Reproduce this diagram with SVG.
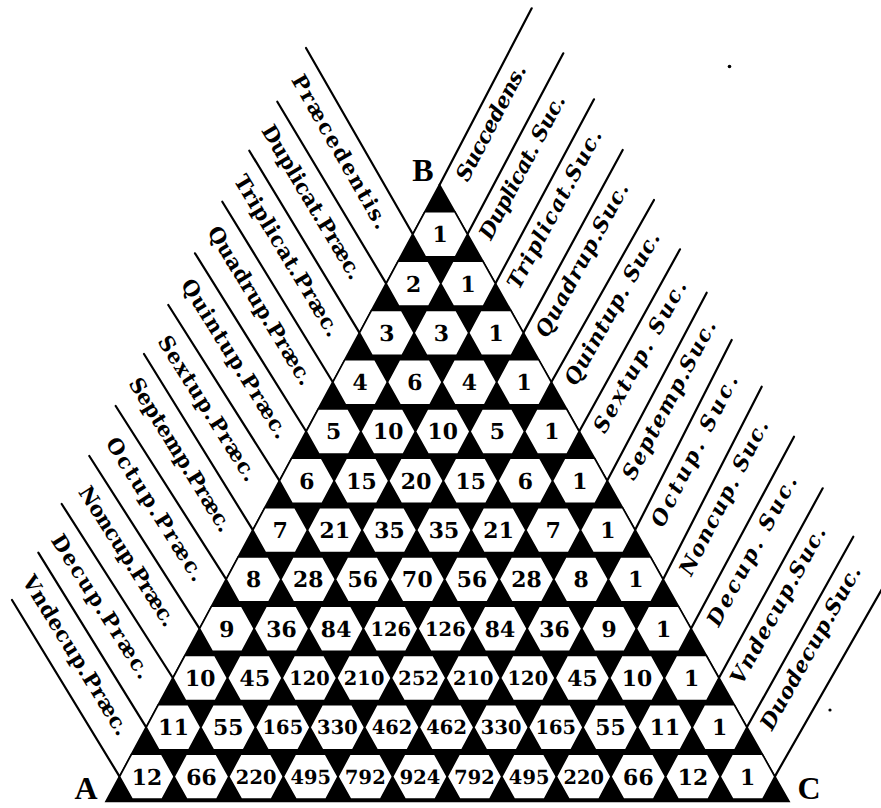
<svg xmlns="http://www.w3.org/2000/svg" width="881" height="808" viewBox="0 0 881 808">
<defs>
<style>
.n{font-family:"DejaVu Serif","Liberation Serif",serif;font-weight:bold;font-size:22px;text-anchor:middle;fill:#000}
.n3{font-family:"DejaVu Serif","Liberation Serif",serif;font-weight:bold;font-size:19.5px;text-anchor:middle;fill:#000}
.lp{font-family:"DejaVu Serif","Liberation Serif",serif;font-weight:bold;font-size:21px;fill:#000}
.ls{font-family:"DejaVu Serif","Liberation Serif",serif;font-weight:bold;font-style:italic;font-size:21px;fill:#000}
.abc{font-family:"Liberation Serif",serif;font-weight:bold;font-size:32px;text-anchor:middle;fill:#000}
.ln{stroke:#000;stroke-width:2.2;fill:none;stroke-linecap:round}
</style>
<polygon id="h" points="27.3,0 15,22.5 -15,22.5 -27.3,0 -15,-22.5 15,-22.5" fill="#fff" stroke="#000" stroke-width="1.6"/>
</defs>
<rect width="881" height="808" fill="#fff"/>
<g id="connectors">
<line class="ln" x1="306" y1="48" x2="412.84" y2="234.3"/>
<line class="ln" x1="277.3" y1="101.7" x2="386.18" y2="283.6"/>
<line class="ln" x1="249.3" y1="150.7" x2="359.52" y2="332.9"/>
<line class="ln" x1="222.3" y1="201.7" x2="332.86" y2="382.2"/>
<line class="ln" x1="195" y1="253.3" x2="306.2" y2="431.5"/>
<line class="ln" x1="168.3" y1="305" x2="279.54" y2="480.8"/>
<line class="ln" x1="144" y1="354" x2="252.88" y2="530.1"/>
<line class="ln" x1="115.7" y1="406" x2="226.22" y2="579.4"/>
<line class="ln" x1="89.3" y1="456" x2="199.56" y2="628.7"/>
<line class="ln" x1="61.7" y1="504" x2="172.9" y2="678"/>
<line class="ln" x1="38.3" y1="552.7" x2="146.24" y2="727.3"/>
<line class="ln" x1="12" y1="600" x2="119.58" y2="776.6"/>
<line class="ln" x1="439.5" y1="185" x2="531.7" y2="8.3"/>
<line class="ln" x1="467.44" y1="234.3" x2="563.3" y2="53.3"/>
<line class="ln" x1="495.38" y1="283.6" x2="594" y2="99.3"/>
<line class="ln" x1="523.32" y1="332.9" x2="622.7" y2="150"/>
<line class="ln" x1="551.26" y1="382.2" x2="654" y2="200"/>
<line class="ln" x1="579.2" y1="431.5" x2="680" y2="249.3"/>
<line class="ln" x1="607.14" y1="480.8" x2="706.7" y2="292.7"/>
<line class="ln" x1="635.08" y1="530.1" x2="731.7" y2="340"/>
<line class="ln" x1="663.02" y1="579.4" x2="761.7" y2="386.7"/>
<line class="ln" x1="690.96" y1="628.7" x2="794" y2="436.7"/>
<line class="ln" x1="718.9" y1="678" x2="822.7" y2="488.3"/>
<line class="ln" x1="746.84" y1="727.3" x2="853.3" y2="536.7"/>
<line class="ln" x1="774.78" y1="776.6" x2="890" y2="575"/>
</g>
<g id="labels-left">
<text class="lp" transform="translate(290.8 79.8) rotate(60.2)" textLength="174" lengthAdjust="spacing">Præcedentis.</text>
<text class="lp" transform="translate(260.7 130.3) rotate(59.1)" textLength="176" lengthAdjust="spacing">Duplicat.Præc.</text>
<text class="lp" transform="translate(233.3 180.2) rotate(58.8)" textLength="185" lengthAdjust="spacing">Triplicat.Præc.</text>
<text class="lp" transform="translate(206.7 231.7) rotate(58.5)" textLength="182" lengthAdjust="spacing">Quadrup.Præc.</text>
<text class="lp" transform="translate(180.2 284.5) rotate(58)" textLength="184" lengthAdjust="spacing">Quintup.Præc.</text>
<text class="lp" transform="translate(156.9 341.3) rotate(57.7)" textLength="168" lengthAdjust="spacing">Sextup.Præc.</text>
<text class="lp" transform="translate(127.9 383.2) rotate(58.3)" textLength="177" lengthAdjust="spacing">Septemp.Præc.</text>
<text class="lp" transform="translate(104.9 443.1) rotate(57.5)" textLength="166" lengthAdjust="spacing">Octup.Præc.</text>
<text class="lp" transform="translate(77.8 491.9) rotate(57.4)" textLength="162" lengthAdjust="spacing">Noncup.Præc.</text>
<text class="lp" transform="translate(50.2 539.9) rotate(57.4)" textLength="167" lengthAdjust="spacing">Decup.Præc.</text>
<text class="lp" transform="translate(21.5 580.7) rotate(58.3)" textLength="184" lengthAdjust="spacing">Vndecup.Præc.</text>
</g>
<g id="labels-right">
<text class="ls" transform="translate(467.7 182.8) rotate(-62.4)" textLength="128" lengthAdjust="spacing">Succedens.</text>
<text class="ls" transform="translate(491 241.1) rotate(-62.1)" textLength="160" lengthAdjust="spacing">Duplicat. Suc.</text>
<text class="ls" transform="translate(518.9 290.5) rotate(-61.8)" textLength="177" lengthAdjust="spacing">Triplicat.Suc.</text>
<text class="ls" transform="translate(547.2 339.1) rotate(-61.5)" textLength="172" lengthAdjust="spacing">Quadrup.Suc.</text>
<text class="ls" transform="translate(576.1 387) rotate(-60.6)" textLength="172" lengthAdjust="spacing">Quintup. Suc.</text>
<text class="ls" transform="translate(605 434.4) rotate(-61)" textLength="170" lengthAdjust="spacing">Sextup. Suc.</text>
<text class="ls" transform="translate(633.9 481.4) rotate(-62.1)" textLength="177" lengthAdjust="spacing">Septemp.Suc.</text>
<text class="ls" transform="translate(662.9 528.5) rotate(-63.1)" textLength="167" lengthAdjust="spacing">Octup. Suc.</text>
<text class="ls" transform="translate(691.2 577) rotate(-62.9)" textLength="171" lengthAdjust="spacing">Noncup. Suc.</text>
<text class="ls" transform="translate(718.8 627.7) rotate(-61.8)" textLength="167" lengthAdjust="spacing">Decup. Suc.</text>
<text class="ls" transform="translate(742.1 685.7) rotate(-61.3)" textLength="176" lengthAdjust="spacing">Vndecup.Suc.</text>
<text class="ls" transform="translate(771.9 731.6) rotate(-60.8)" textLength="184" lengthAdjust="spacing">Duodecup.Suc.</text>
</g>
<g id="corners">
<text class="abc" x="423" y="181">B</text>
<text class="abc" x="86" y="799">A</text>
<text class="abc" x="809" y="799">C</text>
<circle cx="729.5" cy="66.5" r="1.8" fill="#000"/>
<circle cx="830" cy="710" r="1.6" fill="#000"/>
</g>
<g id="triangle" transform="matrix(1 0 0.013 1 439.5 185)">
<polygon points="0,0 -341.25,616.25 341.25,616.25" fill="#000" stroke="#000" stroke-width="2" stroke-linejoin="miter"/>
<g id="r1c1"><use href="#h" x="0" y="49.3"/><text class="n" x="0" y="57.3">1</text></g>
<g id="r2c1"><use href="#h" x="-27.3" y="98.6"/><text class="n" x="-27.3" y="106.6">2</text></g>
<g id="r2c2"><use href="#h" x="27.3" y="98.6"/><text class="n" x="27.3" y="106.6">1</text></g>
<g id="r3c1"><use href="#h" x="-54.6" y="147.9"/><text class="n" x="-54.6" y="155.9">3</text></g>
<g id="r3c2"><use href="#h" x="0" y="147.9"/><text class="n" x="0" y="155.9">3</text></g>
<g id="r3c3"><use href="#h" x="54.6" y="147.9"/><text class="n" x="54.6" y="155.9">1</text></g>
<g id="r4c1"><use href="#h" x="-81.9" y="197.2"/><text class="n" x="-81.9" y="205.2">4</text></g>
<g id="r4c2"><use href="#h" x="-27.3" y="197.2"/><text class="n" x="-27.3" y="205.2">6</text></g>
<g id="r4c3"><use href="#h" x="27.3" y="197.2"/><text class="n" x="27.3" y="205.2">4</text></g>
<g id="r4c4"><use href="#h" x="81.9" y="197.2"/><text class="n" x="81.9" y="205.2">1</text></g>
<g id="r5c1"><use href="#h" x="-109.2" y="246.5"/><text class="n" x="-109.2" y="254.5">5</text></g>
<g id="r5c2"><use href="#h" x="-54.6" y="246.5"/><text class="n" x="-54.6" y="254.5">10</text></g>
<g id="r5c3"><use href="#h" x="0" y="246.5"/><text class="n" x="0" y="254.5">10</text></g>
<g id="r5c4"><use href="#h" x="54.6" y="246.5"/><text class="n" x="54.6" y="254.5">5</text></g>
<g id="r5c5"><use href="#h" x="109.2" y="246.5"/><text class="n" x="109.2" y="254.5">1</text></g>
<g id="r6c1"><use href="#h" x="-136.5" y="295.8"/><text class="n" x="-136.5" y="303.8">6</text></g>
<g id="r6c2"><use href="#h" x="-81.9" y="295.8"/><text class="n" x="-81.9" y="303.8">15</text></g>
<g id="r6c3"><use href="#h" x="-27.3" y="295.8"/><text class="n" x="-27.3" y="303.8">20</text></g>
<g id="r6c4"><use href="#h" x="27.3" y="295.8"/><text class="n" x="27.3" y="303.8">15</text></g>
<g id="r6c5"><use href="#h" x="81.9" y="295.8"/><text class="n" x="81.9" y="303.8">6</text></g>
<g id="r6c6"><use href="#h" x="136.5" y="295.8"/><text class="n" x="136.5" y="303.8">1</text></g>
<g id="r7c1"><use href="#h" x="-163.8" y="345.1"/><text class="n" x="-163.8" y="353.1">7</text></g>
<g id="r7c2"><use href="#h" x="-109.2" y="345.1"/><text class="n" x="-109.2" y="353.1">21</text></g>
<g id="r7c3"><use href="#h" x="-54.6" y="345.1"/><text class="n" x="-54.6" y="353.1">35</text></g>
<g id="r7c4"><use href="#h" x="0" y="345.1"/><text class="n" x="0" y="353.1">35</text></g>
<g id="r7c5"><use href="#h" x="54.6" y="345.1"/><text class="n" x="54.6" y="353.1">21</text></g>
<g id="r7c6"><use href="#h" x="109.2" y="345.1"/><text class="n" x="109.2" y="353.1">7</text></g>
<g id="r7c7"><use href="#h" x="163.8" y="345.1"/><text class="n" x="163.8" y="353.1">1</text></g>
<g id="r8c1"><use href="#h" x="-191.1" y="394.4"/><text class="n" x="-191.1" y="402.4">8</text></g>
<g id="r8c2"><use href="#h" x="-136.5" y="394.4"/><text class="n" x="-136.5" y="402.4">28</text></g>
<g id="r8c3"><use href="#h" x="-81.9" y="394.4"/><text class="n" x="-81.9" y="402.4">56</text></g>
<g id="r8c4"><use href="#h" x="-27.3" y="394.4"/><text class="n" x="-27.3" y="402.4">70</text></g>
<g id="r8c5"><use href="#h" x="27.3" y="394.4"/><text class="n" x="27.3" y="402.4">56</text></g>
<g id="r8c6"><use href="#h" x="81.9" y="394.4"/><text class="n" x="81.9" y="402.4">28</text></g>
<g id="r8c7"><use href="#h" x="136.5" y="394.4"/><text class="n" x="136.5" y="402.4">8</text></g>
<g id="r8c8"><use href="#h" x="191.1" y="394.4"/><text class="n" x="191.1" y="402.4">1</text></g>
<g id="r9c1"><use href="#h" x="-218.4" y="443.7"/><text class="n" x="-218.4" y="451.7">9</text></g>
<g id="r9c2"><use href="#h" x="-163.8" y="443.7"/><text class="n" x="-163.8" y="451.7">36</text></g>
<g id="r9c3"><use href="#h" x="-109.2" y="443.7"/><text class="n" x="-109.2" y="451.7">84</text></g>
<g id="r9c4"><use href="#h" x="-54.6" y="443.7"/><text class="n3" x="-54.6" y="450.7">126</text></g>
<g id="r9c5"><use href="#h" x="0" y="443.7"/><text class="n3" x="0" y="450.7">126</text></g>
<g id="r9c6"><use href="#h" x="54.6" y="443.7"/><text class="n" x="54.6" y="451.7">84</text></g>
<g id="r9c7"><use href="#h" x="109.2" y="443.7"/><text class="n" x="109.2" y="451.7">36</text></g>
<g id="r9c8"><use href="#h" x="163.8" y="443.7"/><text class="n" x="163.8" y="451.7">9</text></g>
<g id="r9c9"><use href="#h" x="218.4" y="443.7"/><text class="n" x="218.4" y="451.7">1</text></g>
<g id="r10c1"><use href="#h" x="-245.7" y="493"/><text class="n" x="-245.7" y="501">10</text></g>
<g id="r10c2"><use href="#h" x="-191.1" y="493"/><text class="n" x="-191.1" y="501">45</text></g>
<g id="r10c3"><use href="#h" x="-136.5" y="493"/><text class="n3" x="-136.5" y="500">120</text></g>
<g id="r10c4"><use href="#h" x="-81.9" y="493"/><text class="n3" x="-81.9" y="500">210</text></g>
<g id="r10c5"><use href="#h" x="-27.3" y="493"/><text class="n3" x="-27.3" y="500">252</text></g>
<g id="r10c6"><use href="#h" x="27.3" y="493"/><text class="n3" x="27.3" y="500">210</text></g>
<g id="r10c7"><use href="#h" x="81.9" y="493"/><text class="n3" x="81.9" y="500">120</text></g>
<g id="r10c8"><use href="#h" x="136.5" y="493"/><text class="n" x="136.5" y="501">45</text></g>
<g id="r10c9"><use href="#h" x="191.1" y="493"/><text class="n" x="191.1" y="501">10</text></g>
<g id="r10c10"><use href="#h" x="245.7" y="493"/><text class="n" x="245.7" y="501">1</text></g>
<g id="r11c1"><use href="#h" x="-273" y="542.3"/><text class="n" x="-273" y="550.3">11</text></g>
<g id="r11c2"><use href="#h" x="-218.4" y="542.3"/><text class="n" x="-218.4" y="550.3">55</text></g>
<g id="r11c3"><use href="#h" x="-163.8" y="542.3"/><text class="n3" x="-163.8" y="549.3">165</text></g>
<g id="r11c4"><use href="#h" x="-109.2" y="542.3"/><text class="n3" x="-109.2" y="549.3">330</text></g>
<g id="r11c5"><use href="#h" x="-54.6" y="542.3"/><text class="n3" x="-54.6" y="549.3">462</text></g>
<g id="r11c6"><use href="#h" x="0" y="542.3"/><text class="n3" x="0" y="549.3">462</text></g>
<g id="r11c7"><use href="#h" x="54.6" y="542.3"/><text class="n3" x="54.6" y="549.3">330</text></g>
<g id="r11c8"><use href="#h" x="109.2" y="542.3"/><text class="n3" x="109.2" y="549.3">165</text></g>
<g id="r11c9"><use href="#h" x="163.8" y="542.3"/><text class="n" x="163.8" y="550.3">55</text></g>
<g id="r11c10"><use href="#h" x="218.4" y="542.3"/><text class="n" x="218.4" y="550.3">11</text></g>
<g id="r11c11"><use href="#h" x="273" y="542.3"/><text class="n" x="273" y="550.3">1</text></g>
<g id="r12c1"><use href="#h" x="-300.3" y="591.6"/><text class="n" x="-300.3" y="599.6">12</text></g>
<g id="r12c2"><use href="#h" x="-245.7" y="591.6"/><text class="n" x="-245.7" y="599.6">66</text></g>
<g id="r12c3"><use href="#h" x="-191.1" y="591.6"/><text class="n3" x="-191.1" y="598.6">220</text></g>
<g id="r12c4"><use href="#h" x="-136.5" y="591.6"/><text class="n3" x="-136.5" y="598.6">495</text></g>
<g id="r12c5"><use href="#h" x="-81.9" y="591.6"/><text class="n3" x="-81.9" y="598.6">792</text></g>
<g id="r12c6"><use href="#h" x="-27.3" y="591.6"/><text class="n3" x="-27.3" y="598.6">924</text></g>
<g id="r12c7"><use href="#h" x="27.3" y="591.6"/><text class="n3" x="27.3" y="598.6">792</text></g>
<g id="r12c8"><use href="#h" x="81.9" y="591.6"/><text class="n3" x="81.9" y="598.6">495</text></g>
<g id="r12c9"><use href="#h" x="136.5" y="591.6"/><text class="n3" x="136.5" y="598.6">220</text></g>
<g id="r12c10"><use href="#h" x="191.1" y="591.6"/><text class="n" x="191.1" y="599.6">66</text></g>
<g id="r12c11"><use href="#h" x="245.7" y="591.6"/><text class="n" x="245.7" y="599.6">12</text></g>
<g id="r12c12"><use href="#h" x="300.3" y="591.6"/><text class="n" x="300.3" y="599.6">1</text></g>
</g>
</svg>
